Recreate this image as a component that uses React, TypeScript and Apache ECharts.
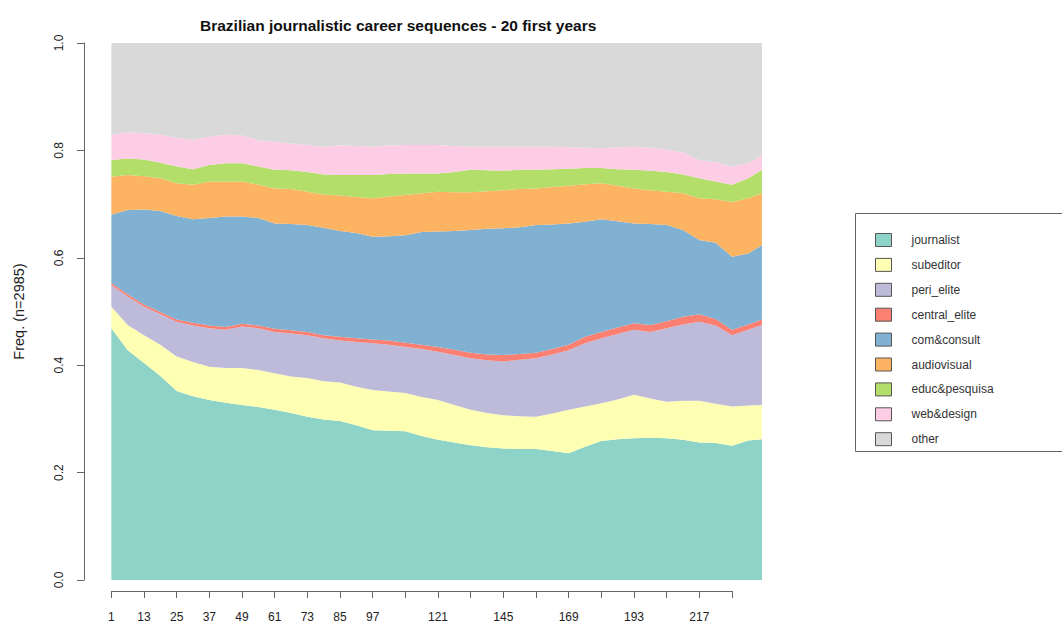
import React, { useEffect, useRef } from "react";
import * as echarts from "echarts";

const months = [1, 7, 13, 19, 25, 31, 37, 43, 49, 55, 61, 67, 73, 79, 85, 91, 97, 103, 109, 115, 121, 127, 133, 139, 145, 151, 157, 163, 169, 175, 181, 187, 193, 199, 205, 211, 217, 223, 229, 235, 240];

const journalist = [0.469, 0.428, 0.404, 0.380, 0.352, 0.342, 0.335, 0.330, 0.326, 0.322, 0.317, 0.311, 0.304, 0.299, 0.296, 0.288, 0.279, 0.278, 0.277, 0.268, 0.261, 0.256, 0.251, 0.247, 0.245, 0.244, 0.244, 0.240, 0.236, 0.248, 0.259, 0.262, 0.264, 0.265, 0.264, 0.261, 0.256, 0.255, 0.250, 0.260, 0.262];
const subeditor = [0.040, 0.047, 0.052, 0.058, 0.064, 0.064, 0.062, 0.065, 0.069, 0.069, 0.068, 0.068, 0.072, 0.071, 0.072, 0.072, 0.075, 0.073, 0.071, 0.073, 0.074, 0.070, 0.066, 0.064, 0.062, 0.061, 0.060, 0.070, 0.081, 0.075, 0.070, 0.074, 0.081, 0.073, 0.068, 0.073, 0.078, 0.073, 0.073, 0.065, 0.064];
const periElite = [0.040, 0.053, 0.053, 0.057, 0.065, 0.068, 0.072, 0.071, 0.077, 0.078, 0.077, 0.080, 0.080, 0.080, 0.078, 0.083, 0.087, 0.087, 0.086, 0.089, 0.090, 0.093, 0.096, 0.098, 0.100, 0.105, 0.109, 0.110, 0.111, 0.118, 0.121, 0.122, 0.121, 0.124, 0.137, 0.142, 0.147, 0.146, 0.133, 0.141, 0.149];
const centralElite = [0.004, 0.004, 0.004, 0.004, 0.004, 0.005, 0.005, 0.005, 0.005, 0.005, 0.006, 0.006, 0.006, 0.006, 0.007, 0.007, 0.007, 0.008, 0.008, 0.008, 0.009, 0.010, 0.010, 0.011, 0.012, 0.011, 0.010, 0.010, 0.010, 0.012, 0.012, 0.012, 0.012, 0.013, 0.013, 0.014, 0.014, 0.012, 0.010, 0.010, 0.010];
const comConsult = [0.127, 0.157, 0.177, 0.188, 0.193, 0.193, 0.200, 0.206, 0.200, 0.200, 0.196, 0.198, 0.199, 0.200, 0.197, 0.196, 0.191, 0.194, 0.200, 0.210, 0.215, 0.221, 0.229, 0.234, 0.236, 0.236, 0.238, 0.232, 0.226, 0.214, 0.210, 0.198, 0.186, 0.188, 0.179, 0.162, 0.138, 0.142, 0.136, 0.132, 0.139];
const audiovisual = [0.071, 0.065, 0.062, 0.061, 0.061, 0.064, 0.068, 0.065, 0.065, 0.062, 0.065, 0.065, 0.062, 0.062, 0.066, 0.067, 0.072, 0.074, 0.075, 0.072, 0.074, 0.072, 0.070, 0.070, 0.071, 0.071, 0.068, 0.070, 0.070, 0.070, 0.067, 0.066, 0.065, 0.063, 0.062, 0.068, 0.078, 0.081, 0.102, 0.103, 0.096];
const educPesquisa = [0.031, 0.031, 0.031, 0.029, 0.031, 0.029, 0.031, 0.034, 0.034, 0.034, 0.035, 0.035, 0.037, 0.037, 0.038, 0.041, 0.043, 0.042, 0.040, 0.037, 0.034, 0.038, 0.042, 0.039, 0.036, 0.036, 0.035, 0.033, 0.032, 0.030, 0.028, 0.031, 0.035, 0.036, 0.037, 0.035, 0.037, 0.033, 0.032, 0.037, 0.044];
const webDesign = [0.047, 0.049, 0.049, 0.052, 0.053, 0.055, 0.053, 0.053, 0.052, 0.049, 0.052, 0.050, 0.050, 0.052, 0.055, 0.054, 0.053, 0.053, 0.053, 0.053, 0.053, 0.048, 0.043, 0.044, 0.045, 0.043, 0.043, 0.042, 0.040, 0.038, 0.037, 0.041, 0.043, 0.043, 0.041, 0.041, 0.034, 0.036, 0.034, 0.028, 0.027];
const other = [0.171, 0.166, 0.168, 0.171, 0.177, 0.180, 0.174, 0.171, 0.172, 0.181, 0.184, 0.187, 0.190, 0.193, 0.191, 0.192, 0.193, 0.191, 0.190, 0.190, 0.190, 0.192, 0.193, 0.193, 0.193, 0.193, 0.193, 0.193, 0.194, 0.195, 0.196, 0.194, 0.193, 0.195, 0.199, 0.204, 0.218, 0.222, 0.230, 0.224, 0.209];

const stateNames = ["journalist", "subeditor", "peri_elite", "central_elite", "com&consult", "audiovisual", "educ&pesquisa", "web&design", "other"];
const stateValues = [journalist, subeditor, periElite, centralElite, comConsult, audiovisual, educPesquisa, webDesign, other];
const stateColors = ["#8DD3C7", "#FFFFB3", "#BEBADA", "#FB8072", "#80B1D3", "#FDB462", "#B3DE69", "#FCCDE5", "#D9D9D9"];

const yTicks = [0, 0.2, 0.4, 0.6, 0.8, 1.0];
const xLabelMonths = ["1", "13", "25", "37", "49", "61", "73", "85", "97", "121", "145", "169", "193", "217"];
const lastTickMonth = 229;

const titleText = "Brazilian journalistic career sequences - 20 first years";
const yAxisTitle = "Freq. (n=2985)";

export default function App() {
  const ref = useRef<HTMLDivElement>(null);

  useEffect(() => {
    if (!ref.current) return;
    const chart = echarts.init(ref.current, null, { renderer: "svg" });
    const font = "'Liberation Sans', Arial, sans-serif";
    const monthPx = 653.3 / 240;
    const plotLeft = 110 + monthPx * 0.5;
    const plotWidth = monthPx * 239;
    const axisCats = Array.from({ length: lastTickMonth }, (_, i) => String(i + 1));
    const labelSet = new Set(xLabelMonths);

    chart.setOption({
      animation: false,
      backgroundColor: "#ffffff",
      textStyle: { fontFamily: font },
      title: {
        text: titleText,
        left: 200,
        top: 17,
        padding: 0,
        textStyle: { fontSize: 15.5, fontWeight: "bold", color: "#111", fontFamily: font },
      },
      legend: {
        orient: "vertical",
        left: 875,
        top: 233,
        padding: 0,
        itemWidth: 16,
        itemHeight: 13,
        itemGap: 10.9,
        icon: "rect",
        itemStyle: { borderColor: "#555", borderWidth: 1 },
        textStyle: { fontSize: 12, color: "#333", fontFamily: font, padding: [0, 0, 0, 15] },
        data: stateNames,
      },
      grid: [
        { left: plotLeft, top: 43, width: plotWidth, height: 537, containLabel: false },
        { left: plotLeft, top: 590, width: monthPx * (lastTickMonth - 1), height: 1, containLabel: false },
      ],
      xAxis: [
        { type: "value", gridIndex: 0, min: 1, max: 240, show: false },
        {
          type: "category",
          gridIndex: 1,
          data: axisCats,
          boundaryGap: false,
          position: "bottom",
          axisLine: { show: true, lineStyle: { color: "#666", width: 1 } },
          axisTick: { show: true, interval: 11, length: 7, lineStyle: { color: "#666" } },
          axisLabel: {
            show: true,
            interval: (_i: number, v: string) => labelSet.has(v),
            fontSize: 12,
            color: "#222",
            margin: 20,
            fontFamily: font,
          },
          splitLine: { show: false },
        },
      ],
      yAxis: [
        {
          type: "value",
          gridIndex: 0,
          min: 0,
          max: 1,
          interval: 0.2,
          offset: plotLeft - 84,
          name: yAxisTitle,
          nameLocation: "middle",
          nameRotate: 90,
          nameGap: 58,
          nameTextStyle: { fontSize: 14.5, color: "#222", fontFamily: font },
          axisLine: { show: true, lineStyle: { color: "#666", width: 1 } },
          axisTick: { show: true, length: 7, lineStyle: { color: "#666" } },
          axisLabel: {
            rotate: 90,
            fontSize: 12,
            color: "#222",
            margin: 19,
            fontFamily: font,
            showMinLabel: true,
            showMaxLabel: true,
            formatter: (v: number) => (yTicks.indexOf(Math.round(v * 10) / 10) >= 0 ? v.toFixed(1) : ""),
          },
          splitLine: { show: false },
        },
        { type: "value", gridIndex: 1, show: false },
      ],
      graphic: [
        {
          type: "rect",
          z: -1,
          shape: { x: 855.5, y: 213.5, width: 240, height: 238 },
          style: { fill: "none", stroke: "#666", lineWidth: 1 },
          silent: true,
        },
      ],
      series: stateNames.map((name, k) => ({
        name,
        type: "line",
        xAxisIndex: 0,
        yAxisIndex: 0,
        stack: "states",
        symbol: "none",
        showSymbol: false,
        color: stateColors[k],
        lineStyle: { width: 0, color: stateColors[k] },
        itemStyle: { color: stateColors[k] },
        areaStyle: { color: stateColors[k], opacity: 1 },
        // value first so that the stacked dimension is the frequency, month mapped to x
        dimensions: ["freq", "month"],
        encode: { x: 1, y: 0 },
        data: months.map((m, i) => [stateValues[k][i], m]),
        z: 2,
      })),
    });

    return () => chart.dispose();
  }, []);

  return (
    <div
      ref={ref}
      style={{ position: "absolute", left: 0, top: 0, width: 1062, height: 626, background: "#fff" }}
    />
  );
}
